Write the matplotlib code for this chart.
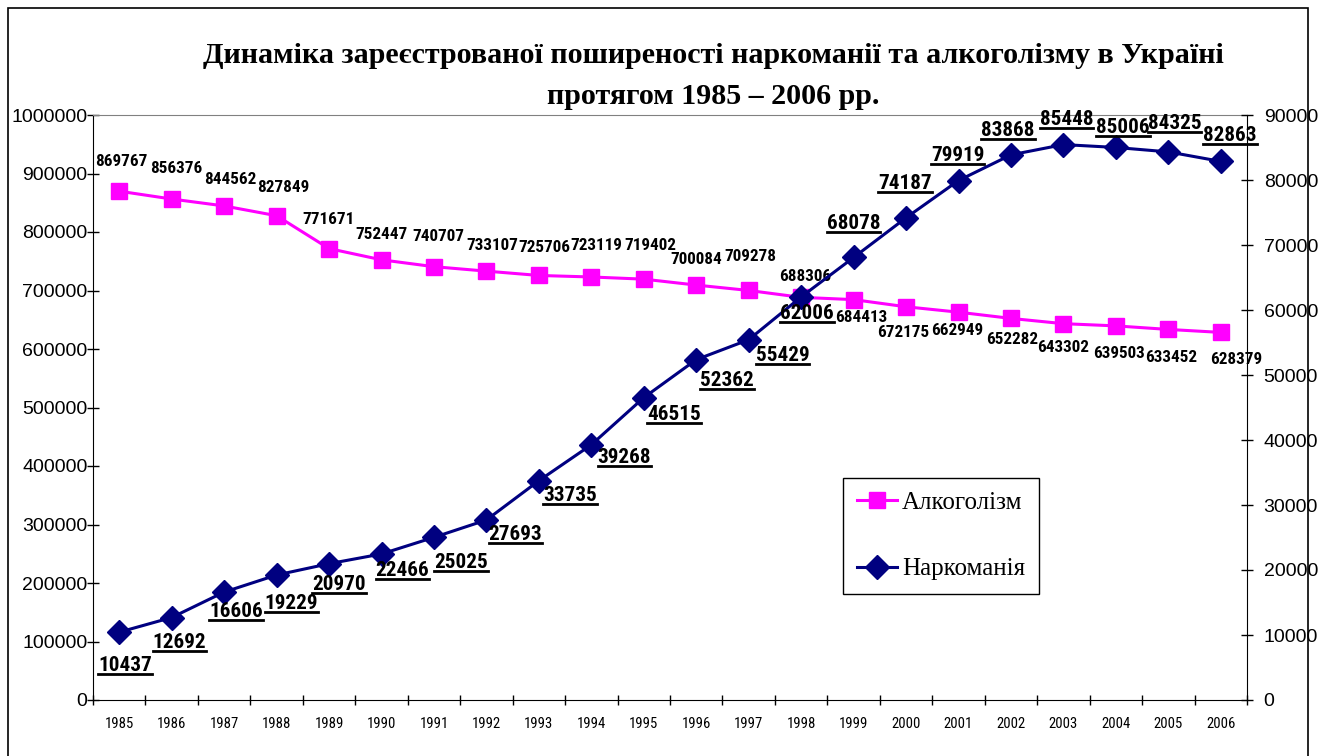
import matplotlib
matplotlib.use('Agg')
import matplotlib.pyplot as plt
from matplotlib import font_manager
from matplotlib.lines import Line2D
from matplotlib.patches import Rectangle

years = ['1985', '1986', '1987', '1988', '1989', '1990', '1991', '1992', '1993', '1994', '1995',
         '1996', '1997', '1998', '1999', '2000', '2001', '2002', '2003', '2004', '2005', '2006']
alcohol = [869767, 856376, 844562, 827849, 771671, 752447, 740707, 733107, 725706, 723119, 719402,
           709278, 700084, 688306, 684413, 672175, 662949, 652282, 643302, 639503, 633452, 628379]
# label texts as printed on the chart (1996/1997 labels sit swapped relative to the points)
alcohol_text = ['869767', '856376', '844562', '827849', '771671', '752447', '740707', '733107', '725706',
                '723119', '719402', '700084', '709278', '688306', '684413', '672175', '662949', '652282',
                '643302', '639503', '633452', '628379']
narco = [10437, 12692, 16606, 19229, 20970, 22466, 25025, 27693, 33735, 39268, 46515,
         52362, 55429, 62006, 68078, 74187, 79919, 83868, 85448, 85006, 84325, 82863]
left_ticks = [0, 100000, 200000, 300000, 400000, 500000, 600000, 700000, 800000, 900000, 1000000]
right_ticks = [0, 10000, 20000, 30000, 40000, 50000, 60000, 70000, 80000, 90000]

# label offsets in pixels (dx right, dy up)
alco_off = [(2, 28), (5, 29), (6, 25), (7, 27), (-1, 28), (0, 24), (4, 29), (6, 24), (6, 27), (5, 30),
            (7, 32), (0, 24), (2, 33), (4, 19), (8, -19), (-3, -27), (-1, -20), (1, -22), (0, -25),
            (3, -29), (3, -29), (15, -28)]
narco_off = [(6, -35), (8, -27), (12, -22), (15, -31), (10, -23), (21, -19), (27, -27), (29, -17),
             (31, -17), (33, -15), (30, -19), (31, -23), (34, -18), (6, -19), (0, 32), (-1, 32),
             (-1, 23), (-3, 22), (3, 23), (7, 18), (6, 26), (9, 24)]

names = {f.name for f in font_manager.fontManager.ttflist}
narrow = 'Liberation Sans'
for cand in ['Liberation Sans Narrow', 'Arial Narrow', 'Roboto Condensed', 'Open Sans Condensed',
             'DejaVu Sans Condensed', 'Noto Sans Condensed']:
    if cand in names:
        narrow = cand
        break
sans = 'Liberation Sans'
serif = 'Liberation Serif'

W, H = 1331, 756
fig = plt.figure(figsize=(W / 100, H / 100), dpi=100)
fig.patch.set_facecolor('white')
rend = fig.canvas.get_renderer()


def fit_size(sample, target_px, weight='normal'):
    t = fig.text(0, 0, sample, fontsize=10, family=narrow, fontweight=weight)
    w = t.get_window_extent(rend).width
    t.remove()
    return 10 * target_px / w


alco_fs = fit_size('725706', 52, 'bold')
narco_fs = fit_size('33735', 54, 'bold')
xtick_fs = fit_size('1985', 29)

ax = fig.add_axes([93 / W, 56 / H, 1154 / W, 585 / H])
ax2 = ax.twinx()

x = list(range(len(years)))
la, = ax.plot(x, alcohol, color='#FF00FF', lw=2.2, marker='s', ms=12, label='Алкоголізм')
ln, = ax2.plot(x, narco, color='#000080', lw=2.2, marker='D', ms=12, label='Наркоманія')

ax.set_xlim(-0.5, len(years) - 0.5)
ax.set_ylim(0, 1000000)
ax2.set_ylim(0, 90000)
ax.set_yticks(left_ticks)
ax.set_yticklabels([str(v) for v in left_ticks], fontsize=14, family=sans)
ax2.set_yticks(right_ticks)
ax2.set_yticklabels([str(v) for v in right_ticks], fontsize=14, family=sans)

ax.set_xticks([i - 0.5 for i in range(len(years) + 1)])
ax.set_xticklabels([])
ax.set_xticks(x, minor=True)
ax.set_xticklabels(years, minor=True, fontsize=xtick_fs, family=narrow)
ax.tick_params(axis='x', which='major', direction='inout', length=7, width=1)
ax.tick_params(axis='x', which='minor', length=0, pad=12)
ax.tick_params(axis='y', direction='inout', length=8, width=1, pad=0)
ax2.tick_params(axis='y', direction='inout', length=8, width=1, pad=8)

for s in ['left', 'bottom']:
    ax.spines[s].set_color('black')
ax.spines['right'].set_visible(False)
ax.spines['top'].set_color('#808080')
ax2.spines['top'].set_visible(False)
ax2.spines['left'].set_visible(False)
ax2.spines['bottom'].set_visible(False)
ax2.spines['right'].set_color('black')

for i, (v, t) in enumerate(zip(alcohol, alcohol_text)):
    dx, dy = alco_off[i]
    ax.annotate(t, (x[i], v), xytext=(dx * 0.72, dy * 0.72 + 1), textcoords='offset points',
                ha='center', va='center', fontsize=alco_fs, fontweight='bold', family=narrow)

narco_texts = []
for i, v in enumerate(narco):
    dx, dy = narco_off[i]
    t = ax2.annotate(str(v), (x[i], v), xytext=(dx * 0.72, dy * 0.72 + 1.5), textcoords='offset points',
                     ha='center', va='center', fontsize=narco_fs, fontweight='bold', family=narrow)
    narco_texts.append(t)

leg = ax2.legend(handles=[la, ln], loc='upper left', bbox_to_anchor=(0.650, 0.3795),
                 borderaxespad=0, prop={'family': serif, 'size': 18}, frameon=True,
                 fancybox=False, edgecolor='black', framealpha=1, handlelength=1.6,
                 handletextpad=0.2, labelspacing=1.75, borderpad=0.55)
leg.get_frame().set_linewidth(1)

fig.text(713 / W, 1 - 76 / H,
         'Динаміка зареєстрованої поширеності наркоманії та алкоголізму в Україні\nпротягом 1985 – 2006 рр.',
         ha='center', va='center', fontsize=21.6, fontweight='bold', family=serif, linespacing=1.62)

fig.add_artist(Rectangle((8 / W, -0.05), 1300 / W, 1.05 - 8 / H, transform=fig.transFigure,
                         fill=False, edgecolor='black', lw=1.2, clip_on=False))

fig.canvas.draw()
r = fig.canvas.get_renderer()
for t in narco_texts:
    bb = t.get_window_extent(r)
    yy = (bb.y0 + 1) / H
    fig.add_artist(Line2D([bb.x0 / W, bb.x1 / W], [yy, yy], transform=fig.transFigure,
                          color='black', lw=2))

fig.savefig('out.png', dpi=100)
